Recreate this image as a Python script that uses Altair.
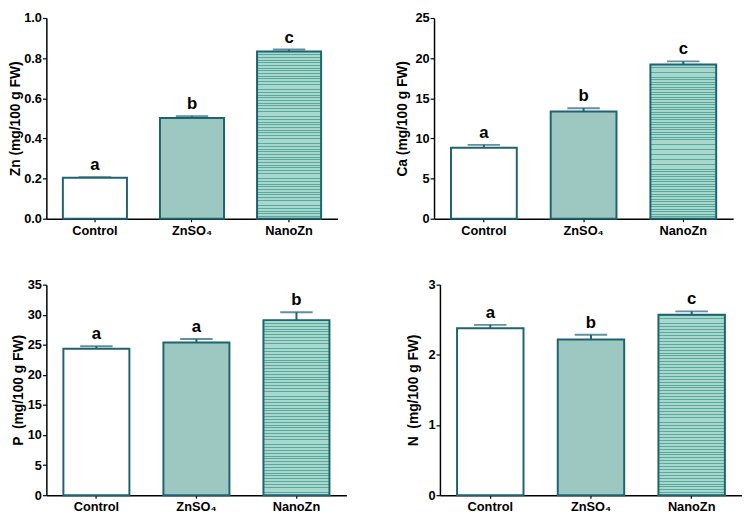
import altair as alt
import pandas as pd

treatments = ["Control", "ZnSO₄", "NanoZn"]

zn_vals = [0.204, 0.502, 0.833]
zn_err = [0.003, 0.009, 0.010]
zn_letters = ["a", "b", "c"]

ca_vals = [8.84, 13.36, 19.2]
ca_err = [0.36, 0.40, 0.40]
ca_letters = ["a", "b", "c"]

p_vals = [24.36, 25.4, 29.1]
p_err = [0.40, 0.55, 1.30]
p_letters = ["a", "a", "b"]

n_vals = [2.38, 2.22, 2.572]
n_err = [0.047, 0.065, 0.047]
n_letters = ["a", "b", "c"]

FONT = "Liberation Sans"
EDGE = "#1d6372"
CHECK = "#9cc8c1"
STRIPE_DARK = "#5aa99c"
STRIPE_LIGHT = "#a8d7ce"


def stripes(n=62):
    stops = []
    for i in range(n):
        a = i / n
        b = (i + 1 / 3) / n
        c = (i + 1) / n
        stops += [
            alt.GradientStop(color=STRIPE_DARK, offset=a),
            alt.GradientStop(color=STRIPE_DARK, offset=b),
            alt.GradientStop(color=STRIPE_LIGHT, offset=b),
            alt.GradientStop(color=STRIPE_LIGHT, offset=c),
        ]
    return alt.Gradient(gradient="linear", stops=stops, x1=0, x2=0, y1=0, y2=1)


def panel(vals, errs, letters, title, ymax, ticks, fmt, w, h, tpad):
    df = pd.DataFrame({
        "treatment": treatments,
        "value": vals,
        "top": [v + e for v, e in zip(vals, errs)],
        "letter": letters,
    })
    x = alt.X("treatment:N", sort=treatments,
              scale=alt.Scale(paddingInner=0.34, paddingOuter=0.17),
              axis=alt.Axis(title=None, labelAngle=0, labelFont=FONT, labelFontSize=13,
                            labelFontWeight="bold", labelColor="black", labelPadding=3,
                            domainColor="black", domainWidth=1.5, tickColor="black",
                            tickSize=3, tickWidth=1.2, grid=False))
    yscale = alt.Scale(domain=[0, ymax], nice=False)
    yaxis = alt.Axis(title=title, values=ticks, format=fmt, grid=False,
                     labelFont=FONT, labelFontSize=13, labelFontWeight="bold",
                     labelColor="black", labelPadding=1, labelOverlap=False,
                     titleFont=FONT, titleFontSize=14, titleFontWeight="bold",
                     titleColor="black", titlePadding=tpad,
                     domainColor="black", domainWidth=1.5, tickColor="black",
                     tickSize=4, tickWidth=1.2)
    base = alt.Chart(df).encode(x=x)
    err_rule = base.mark_rule(color=EDGE, strokeWidth=2).encode(
        y=alt.Y("value:Q", scale=yscale, axis=yaxis, title=title), y2="top:Q")
    cap = base.mark_tick(color=EDGE, thickness=2, size=33).encode(
        y=alt.Y("top:Q", scale=yscale, axis=yaxis, title=title))

    def bars(name, fill):
        return base.transform_filter(
            alt.FieldEqualPredicate(field="treatment", equal=name)
        ).mark_bar(fill=fill, stroke=EDGE, strokeWidth=2).encode(
            y=alt.Y("value:Q", scale=yscale, axis=yaxis, title=title))

    b1 = bars(treatments[0], "white")
    b2 = bars(treatments[1], CHECK)
    b3 = bars(treatments[2], stripes())
    txt = base.mark_text(font=FONT, fontSize=17, fontWeight="bold", color="black",
                         baseline="bottom", dy=-3).encode(
        y=alt.Y("top:Q", scale=yscale, axis=yaxis, title=title), text="letter:N")
    return alt.layer(err_rule, cap, b1, b2, b3, txt).properties(width=w, height=h)


p1 = panel(zn_vals, zn_err, zn_letters, "Zn (mg/100 g FW)", 1.0,
           [0, 0.2, 0.4, 0.6, 0.8, 1.0], ".1f", 296, 204, 1)
p2 = panel(ca_vals, ca_err, ca_letters, "Ca (mg/100 g FW)", 25,
           [0, 5, 10, 15, 20, 25], "d", 304, 204, 6)
p3 = panel(p_vals, p_err, p_letters, "P\u00a0\u00a0(mg/100 g FW)", 35,
           [0, 5, 10, 15, 20, 25, 30, 35], "d", 305, 214, 2)
p4 = panel(n_vals, n_err, n_letters, "N\u00a0\u00a0(mg/100 g FW)", 3,
           [0, 1, 2, 3], "d", 307, 214, 8)

chart = alt.vconcat(
    alt.hconcat(p1, p2, spacing=58),
    alt.hconcat(p3, p4, spacing=60),
    spacing=42,
).properties(
    padding={"left": 0, "top": 0, "right": 0, "bottom": 0}
).configure_view(stroke=None)

chart.save("out.html", embed_options={"renderer": "svg", "actions": False})
